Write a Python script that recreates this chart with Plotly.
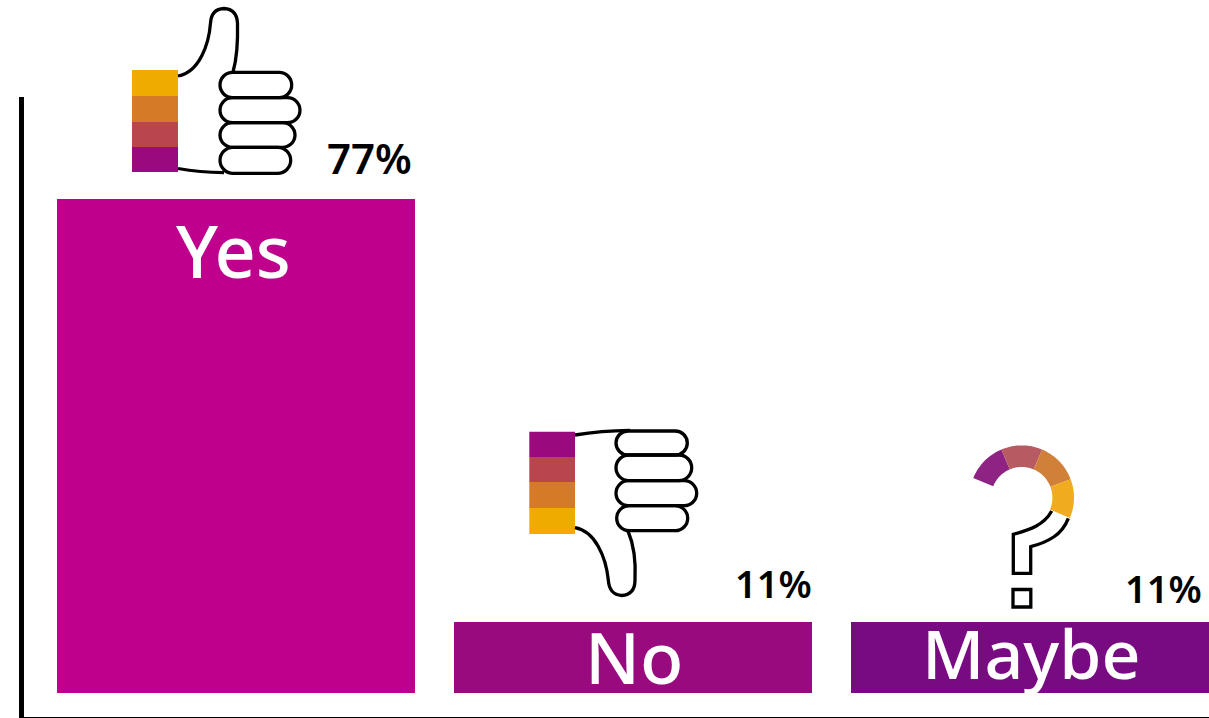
import numpy as np
import plotly.graph_objects as go

categories = ["Yes", "No", "Maybe"]
shares = [77, 11, 11]
bar_colors = ["#BF008D", "#990A7E", "#780A82"]
percent_labels = ["77%", "11%", "11%"]
strip_colors = ["#F0AB00", "#D57A27", "#B9464E", "#9A0A7E"]
ring_colors = ["#8F2383", "#B75A62", "#D08038", "#F0AB1E"]

W, H = 1209, 718
FONT = "Noto Sans"
STROKE = dict(color="black", width=3.3)

fig = go.Figure()
fig.add_bar(
    x=categories, y=shares, marker=dict(color=bar_colors, line_width=0),
    width=0.901, hoverinfo="skip", showlegend=False,
)
# Empty trace that keeps the pixel-based axes alive for the icons
fig.add_scatter(x=[None], y=[None], xaxis="x2", yaxis="y2", showlegend=False, hoverinfo="skip")

shapes = []


def outline(path):
    shapes.append(dict(type="path", path=path, xref="x2", yref="y2",
                       line=STROKE, fillcolor="rgba(0,0,0,0)", layer="above"))


def finger(x0, x1, y0, y1):
    r = (y1 - y0) / 2
    outline(f"M{x0 + r},{y0} L{x1 - r},{y0} C{x1 - r * .45},{y0} {x1},{y0 + r * .45} {x1},{y0 + r} "
            f"C{x1},{y1 - r * .45} {x1 - r * .45},{y1} {x1 - r},{y1} L{x0 + r},{y1} "
            f"C{x0 + r * .45},{y1} {x0},{y1 - r * .45} {x0},{y0 + r} "
            f"C{x0},{y0 + r * .45} {x0 + r * .45},{y0} {x0 + r},{y0} Z")


def strips(x0, x1, edges, colors):
    for top, bottom, color in zip(edges[:-1], edges[1:], colors):
        shapes.append(dict(type="rect", x0=x0, x1=x1, y0=top, y1=bottom, xref="x2", yref="y2",
                           fillcolor=color, line_width=0, layer="above"))


# Thumbs-up icon
strips(132, 178, [70, 96, 122, 147, 172], strip_colors)
outline("M178,76 C200,72 209,43 210.5,23 C211,14 215,9 224,8.5 C233,9 237,14 237.5,23 "
        "C238,43 237,58 233,72")
outline("M178,168.5 C192,171 207,172.5 224,172.7")
finger(220, 291.7, 72.3, 97.7)
finger(220, 300, 97.7, 122.7)
finger(220, 295, 122.7, 147.3)
finger(220, 290.7, 147.3, 173.3)

# Thumbs-down icon
strips(529.3, 575, [431.7, 457, 482, 508, 534], strip_colors[::-1])
outline("M575,435 C590,432.5 610,430.5 630,430.3")
outline("M575,527.7 C595,531 606,557 608.3,580 C609,590 613,595 621.7,595.5 "
        "C631,595 635,590 635,580 C636,560 634,545 628,531")
finger(616, 687.3, 431, 455)
finger(616, 691.7, 455, 480.7)
finger(616, 696.7, 480.7, 505.7)
finger(616.7, 687.7, 505.7, 530.7)

# Question-mark icon: ring segments followed by the outlined stem and dot
CX, CY, R_OUT, R_IN = 1021.7, 497.7, 52.3, 30.7
ring_edges = [158, 112.8, 67, 20.8, -22.8]
for start, end, color in zip(ring_edges[:-1], ring_edges[1:], ring_colors):
    a = np.radians(np.linspace(start, end, 24))
    xs = np.r_[CX + R_OUT * np.cos(a), CX + R_IN * np.cos(a[::-1])]
    ys = np.r_[CY - R_OUT * np.sin(a), CY - R_IN * np.sin(a[::-1])]
    path = "M" + " L".join(f"{x:.2f},{y:.2f}" for x, y in zip(xs, ys)) + " Z"
    shapes.append(dict(type="path", path=path, xref="x2", yref="y2",
                       fillcolor=color, line_width=0, layer="above"))
outline("M1051.7,511 C1044,525 1030,530 1013.3,534.3 L1013.3,573.3 L1030.7,573.3 L1030.7,546.7 "
        "C1048,542 1062,535 1068.3,518.3")
shapes.append(dict(type="rect", x0=1013, x1=1030.8, y0=589.5, y1=607, xref="x2", yref="y2",
                   line=STROKE, fillcolor="rgba(0,0,0,0)", layer="above"))

# Category names inside the bars and percentages above them
name_positions = [(233, 282, 72), (634, 688, 71), (1031, 682, 68)]
percent_positions = [(369, 177, 42), (773, 600, 38), (1163, 605, 38)]
annotations = []
for name, (x, y, size) in zip(categories, name_positions):
    annotations.append(dict(text=name, x=x, y=y, xref="x2", yref="y2", xanchor="center", yanchor="bottom",
                            yshift=-19, showarrow=False,
                            font=dict(family=FONT, size=size, color="white", weight=500)))
for label, (x, y, size) in zip(percent_labels, percent_positions):
    annotations.append(dict(text=label, x=x, y=y, xref="x2", yref="y2", xanchor="center", yanchor="bottom",
                            yshift=-11, showarrow=False,
                            font=dict(family=FONT, size=size, color="black", weight=600)))

hidden = dict(visible=False, fixedrange=True)
fig.update_layout(
    width=W, height=H, margin=dict(l=0, r=0, t=0, b=0), autosize=False,
    paper_bgcolor="white", plot_bgcolor="rgba(0,0,0,0)", bargap=0, hovermode=False,
    shapes=shapes, annotations=annotations,
    xaxis=dict(domain=[24.3 / W, 1], range=[-0.533, 2.449], type="category", categoryorder="array",
               categoryarray=categories, showgrid=False, zeroline=False, showticklabels=False, ticks="",
               showline=True, linecolor="black", linewidth=2, fixedrange=True),
    yaxis=dict(domain=[1.2 / H, 621 / H], range=[-3.7, 92.9], showgrid=False, zeroline=False,
               showticklabels=False, ticks="", showline=True, linecolor="black", linewidth=5, fixedrange=True),
    xaxis2=dict(domain=[0, 1], range=[0, W], anchor="y2", **hidden),
    yaxis2=dict(domain=[0, 1], range=[H, 0], anchor="x2", **hidden),
)

fig.write_html("out.html", config=dict(displayModeBar=False))
